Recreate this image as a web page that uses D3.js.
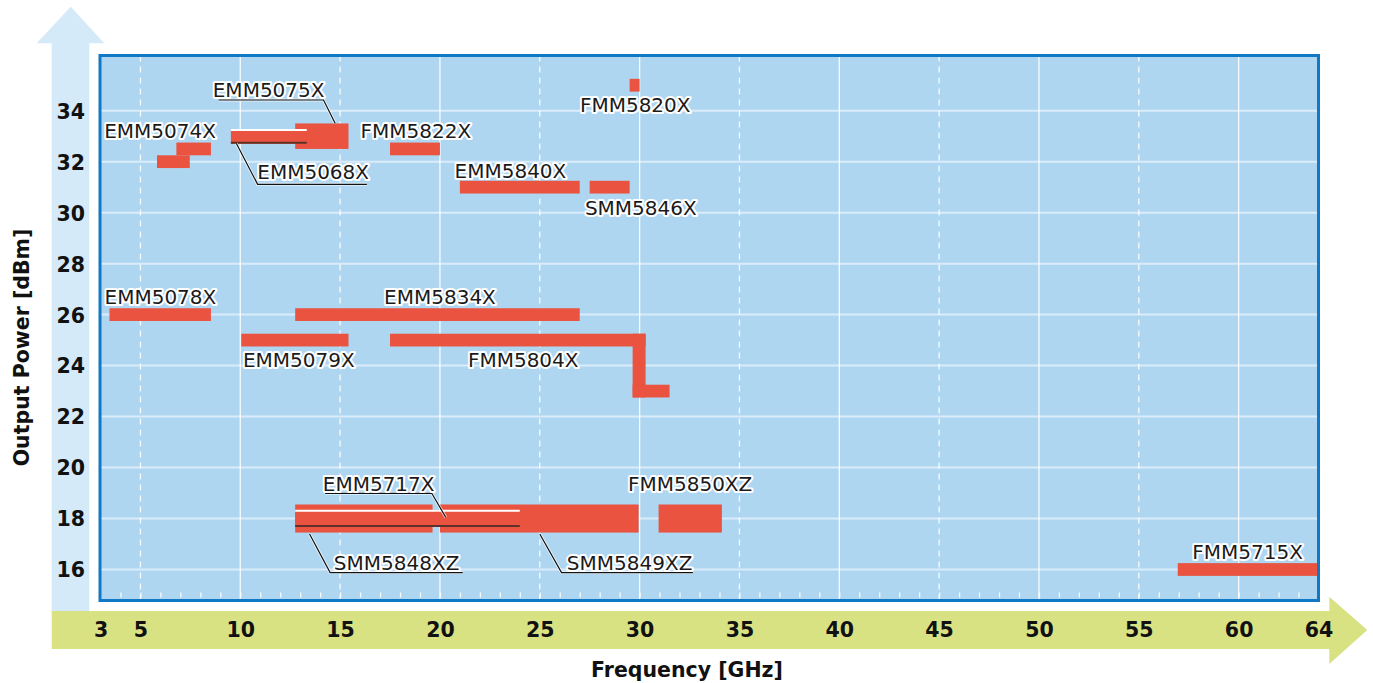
<!DOCTYPE html>
<html>
<head>
<meta charset="utf-8">
<script src="https://cdn.jsdelivr.net/npm/d3@7"></script>
<style>
  body { margin: 0; background: #fff; }
  text { font-family: "DejaVu Sans", sans-serif; }
</style>
</head>
<body>
<div id="vis"></div>
<script>
// chart data: one entry per drawn bar segment (frequency GHz / output power dBm)
const segModel = ['EMM5074X', 'EMM5074X', 'EMM5075X', 'FMM5822X', 'FMM5820X', 'EMM5840X', 'SMM5846X',
  'EMM5078X', 'EMM5834X', 'EMM5079X', 'FMM5804X', 'FMM5804X', 'FMM5804X',
  'SMM5848XZ', 'SMM5849XZ', 'FMM5850XZ', 'FMM5715X']
const segF0 = [5.83, 6.8, 12.75, 17.5, 29.5, 21, 27.5, 3.45, 12.75, 10.05, 17.5, 29.65, 29.65, 12.75, 20, 30.95, 56.95]
const segF1 = [7.47, 8.53, 15.42, 20, 30, 27, 29.5, 8.53, 27, 15.42, 30.3, 30.3, 31.5, 19.63, 29.95, 34.12, 64]
const segP0 = [31.75, 32.25, 32.5, 32.25, 34.75, 30.75, 30.75, 25.75, 25.75, 24.75, 24.75, 22.75, 22.75, 17.45, 17.45, 17.45, 15.75]
const segP1 = [32.25, 32.75, 33.5, 32.75, 35.25, 31.25, 31.25, 26.25, 26.25, 25.25, 25.25, 25.25, 23.25, 18.55, 18.55, 18.55, 16.25]

// bars drawn on top of other bars (with highlight edge)
const overModel = ['EMM5068X', 'EMM5717X']
const overF0 = [9.53, 12.75]
const overF1 = [13.33, 24]
const overP0 = [32.7, 17.67]
const overP1 = [33.28, 18.34]

// labels (centre frequency / centre power)
const labelText = ['EMM5074X', 'EMM5075X', 'FMM5822X', 'EMM5068X', 'FMM5820X', 'EMM5840X', 'SMM5846X',
  'EMM5078X', 'EMM5834X', 'EMM5079X', 'FMM5804X', 'EMM5717X', 'FMM5850XZ', 'SMM5848XZ', 'SMM5849XZ', 'FMM5715X']
const labelF = [5.98, 11.42, 18.79, 13.65, 29.78, 23.53, 30.06, 6.0, 20.0, 12.93, 24.17, 16.93, 32.53, 17.83, 29.5, 60.45]
const labelP = [33.23, 34.82, 33.23, 31.61, 34.24, 31.65, 30.2, 26.7, 26.7, 24.22, 24.22, 19.35, 19.35, 16.28, 16.28, 16.7]

// leader lines [freq, power] points
const leaders = [
  [[8.92, 34.42], [14.17, 34.42], [14.75, 33.51]],
  [[9.8, 32.72], [10.87, 31.11], [16.34, 31.11]],
  [[14.25, 18.99], [19.59, 18.99], [20.29, 18.05]],
  [[13.47, 17.39], [14.5, 15.88], [21.14, 15.88]],
  [[25, 17.39], [26.09, 15.88], [32.67, 15.88]]
]

const xTicks = [3, 5, 10, 15, 20, 25, 30, 35, 40, 45, 50, 55, 60, 64]
const yTicks = [16, 18, 20, 22, 24, 26, 28, 30, 32, 34]

let W = 1373, H = 683
let plot = { left: 100, right: 1318.5, top: 55.5, bottom: 600.5 }

let svg = d3.select('#vis')
  .append('svg')
  .attr('width', W)
  .attr('height', H)
  .attr('viewBox', [0, 0, W, H].join(' '))

let x = d3.scaleLinear().domain([3, 64]).range([100.5, 1318.5])
let y = d3.scaleLinear().domain([16, 34]).range([569.5, 110.7])

// axis arrows (decoration)
svg.append('path')
  .attr('d', 'M51.7,611 L51.7,43.3 L36.7,43.3 L70.7,6.7 L104.3,43.3 L89.3,43.3 L89.3,611 Z')
  .attr('fill', '#d4eaf8')
svg.append('path')
  .attr('d', 'M51.7,611 L1329.3,611 L1329.3,596.7 L1367.3,630 L1329.3,664 L1329.3,649 L51.7,649 Z')
  .attr('fill', '#d9e283')

// plot background
svg.append('rect')
  .attr('x', plot.left).attr('y', plot.top)
  .attr('width', plot.right - plot.left).attr('height', plot.bottom - plot.top)
  .attr('fill', '#aed6f1')

let grid = svg.append('g')
grid.selectAll('.hgrid')
  .data(yTicks)
  .enter().append('line')
  .attr('x1', plot.left).attr('x2', plot.right)
  .attr('y1', d => y(d)).attr('y2', d => y(d))
  .attr('stroke', '#fff').attr('stroke-opacity', 0.55).attr('stroke-width', 2)
grid.selectAll('.vgrid')
  .data(d3.range(5, 64, 5))
  .enter().append('line')
  .attr('x1', d => x(d)).attr('x2', d => x(d))
  .attr('y1', plot.top).attr('y2', plot.bottom)
  .attr('stroke', '#fff').attr('stroke-opacity', 0.9).attr('stroke-width', 1.3)
  .attr('stroke-dasharray', d => d % 10 === 0 ? null : '6,5')

// minor ticks along the bottom edge
svg.append('g')
  .attr('transform', 'translate(0,' + (plot.bottom - 3) + ')')
  .call(d3.axisBottom(x).tickValues(d3.range(4, 64)).tickSize(-5).tickFormat(''))
  .call(g => g.select('.domain').remove())
  .call(g => g.selectAll('line').attr('stroke', '#fff').attr('stroke-width', 1.3).attr('stroke-opacity', 0.9))

// bars
let red = '#e9533f'
svg.append('g').selectAll('rect')
  .data(segModel.map((m, i) => ({ m: m, f0: segF0[i], f1: segF1[i], p0: segP0[i], p1: segP1[i] })))
  .enter().append('rect')
  .attr('x', d => x(d.f0))
  .attr('y', d => y(d.p1))
  .attr('width', d => x(d.f1) - x(d.f0))
  .attr('height', d => y(d.p0) - y(d.p1))
  .attr('fill', red)
  .append('title').text(d => d.m)

let over = svg.append('g').selectAll('g')
  .data(overModel.map((m, i) => ({ m: m, f0: overF0[i], f1: overF1[i], p0: overP0[i], p1: overP1[i] })))
  .enter().append('g')
over.append('rect')
  .attr('x', d => x(d.f0))
  .attr('y', d => y(d.p1))
  .attr('width', d => x(d.f1) - x(d.f0))
  .attr('height', d => y(d.p0) - y(d.p1))
  .attr('fill', red)
over.append('line')
  .attr('x1', d => x(d.f0)).attr('x2', d => x(d.f1))
  .attr('y1', d => y(d.p1) + 1).attr('y2', d => y(d.p1) + 1)
  .attr('stroke', '#fff').attr('stroke-width', 2)
over.append('line')
  .attr('x1', d => x(d.f0)).attr('x2', d => x(d.f1))
  .attr('y1', d => y(d.p0) - 1).attr('y2', d => y(d.p0) - 1)
  .attr('stroke', '#5e3229').attr('stroke-width', 2)

// leader lines
let line = d3.line().x(d => x(d[0])).y(d => y(d[1]))
let lead = svg.append('g')
lead.selectAll('.halo')
  .data(leaders).enter().append('path')
  .attr('d', line).attr('fill', 'none')
  .attr('stroke', '#fff').attr('stroke-opacity', 0.7).attr('stroke-width', 3)
lead.selectAll('.ln')
  .data(leaders).enter().append('path')
  .attr('d', line).attr('fill', 'none')
  .attr('stroke', '#111').attr('stroke-width', 1.2)

// labels
svg.append('g').selectAll('text')
  .data(labelText)
  .enter().append('text')
  .attr('x', (d, i) => x(labelF[i]))
  .attr('y', (d, i) => y(labelP[i]))
  .attr('dy', '0.36em')
  .attr('text-anchor', 'middle')
  .style('font-size', '20px')
  .attr('fill', '#1a1a1a')
  .attr('stroke', '#fff').attr('stroke-width', 4).attr('stroke-linejoin', 'round')
  .attr('paint-order', 'stroke')
  .text(d => d)

// plot border
svg.append('rect')
  .attr('x', plot.left).attr('y', plot.top)
  .attr('width', plot.right - plot.left).attr('height', plot.bottom - plot.top)
  .attr('fill', 'none').attr('stroke', '#1178c5').attr('stroke-width', 3)

// X-axis labels
svg.append('g')
  .attr('transform', 'translate(0,630)')
  .call(d3.axisBottom(x).tickValues(xTicks).tickSize(0).tickPadding(0))
  .call(g => g.select('.domain').remove())
  .call(g => g.selectAll('text')
    .attr('y', 0).attr('dy', '0.36em')
    .attr('fill', '#111')
    .style('font-size', '20.5px').style('font-weight', 'bold')
    .style('font-family', '"DejaVu Sans", sans-serif'))

// Y-axis labels
svg.append('g')
  .attr('transform', 'translate(70.7,0)')
  .call(d3.axisLeft(y).tickValues(yTicks).tickSize(0).tickPadding(0))
  .call(g => g.select('.domain').remove())
  .call(g => g.selectAll('text')
    .attr('x', 0).attr('dy', '0.36em')
    .attr('text-anchor', 'middle')
    .attr('fill', '#111')
    .style('font-size', '20.5px').style('font-weight', 'bold')
    .style('font-family', '"DejaVu Sans", sans-serif'))

// axis titles
svg.append('text')
  .attr('x', 687).attr('y', 670).attr('dy', '0.36em')
  .attr('text-anchor', 'middle')
  .style('font-size', '20.5px').style('font-weight', 'bold')
  .attr('fill', '#111')
  .text('Frequency [GHz]')
svg.append('text')
  .attr('transform', 'translate(22,347.5) rotate(-90)')
  .attr('dy', '0.36em')
  .attr('text-anchor', 'middle')
  .style('font-size', '20.5px').style('font-weight', 'bold')
  .attr('fill', '#111')
  .text('Output Power [dBm]')
</script>
</body>
</html>
